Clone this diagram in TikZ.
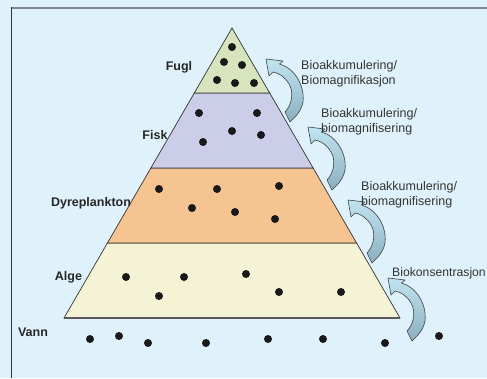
\documentclass[tikz,border=0pt]{standalone}
\usepackage{fontspec}
\setmainfont{Liberation Sans}
\definecolor{bgblue}{RGB}{223,242,251}
\definecolor{framegray}{RGB}{128,136,142}
\definecolor{frameleft}{RGB}{51,51,51}
\definecolor{fuglc}{RGB}{215,228,190}
\definecolor{fiskc}{RGB}{204,205,232}
\definecolor{dyrec}{RGB}{246,196,145}
\definecolor{algec}{RGB}{244,243,213}
\definecolor{arrtop}{RGB}{192,228,240}
\definecolor{arrbot}{RGB}{138,175,192}
\definecolor{txtgray}{RGB}{51,51,51}
\definecolor{dotc}{RGB}{25,25,25}
\tikzset{
  layer/.style={draw=black!80, line width=0.7pt, line join=miter},
  lvl/.style={font=\fontsize{12.5}{15}\selectfont\bfseries, text=black!85, inner sep=0pt},
  proc/.style={font=\fontsize{12.5}{15}\selectfont, text=txtgray, inner sep=0pt, align=left, anchor=west},
  dotty/.style={fill=dotc},
  bioarrow/.pic={
    \shade[top color=arrtop, bottom color=arrbot, draw=black!75, line width=0.6pt, line join=round]
      (0,0) -- (17,2) -- (13.5,5)
      .. controls (28,9) and (39,26) .. (37,43)
      .. controls (35,53) and (29,58) .. (24,63)
      -- (19,53)
      .. controls (26,46) and (28,33) .. (23,25)
      .. controls (19,18) and (13,14) .. (7,13)
      -- (3,17) -- cycle;
  }
}
\begin{document}
\begin{tikzpicture}[x=1pt,y=-1pt]
\useasboundingbox (0,0) rectangle (487,378);
\fill[bgblue] (0,0) rectangle (487,378);
% frame
\draw[framegray, line width=2pt] (11,7.5) -- (487,7.5);
\draw[frameleft, line width=1.5pt] (11.5,6.5) -- (11.5,378);
% pyramid layers
\draw[layer, fill=algec] (64,318) -- (107.4,243) -- (356.6,243) -- (400,318) -- cycle;
\draw[layer, fill=dyrec] (107.4,243) -- (150.9,168) -- (313.1,168) -- (356.6,243) -- cycle;
\draw[layer, fill=fiskc] (150.9,168) -- (194.3,93) -- (269.7,93) -- (313.1,168) -- cycle;
\draw[layer, fill=fuglc] (194.3,93) -- (232,28) -- (269.7,93) -- cycle;
\draw[black!65, line width=1.6pt] (64,318) -- (400,318);
% dots
\foreach \x/\y in {232/47,224/62,242/65,217/80,235/83,254/83,
  199/113,257/113,232/131,203/142,261/135,
  159/189,217/189,279/186,192/208,235/212,275/219,
  126/277,184/277,246/274,159/296,279/292,341/292,
  90/339,119/336,148/343,206/343,268/339,323/339,385/343,439/336}
  \fill[dotty] (\x,\y) circle (4);
% level labels
\node[lvl] (fugl) at (179,67) {Fugl};
\node[lvl] (fisk) at (155,135) {Fisk};
\node[lvl] (dyre) at (91,203) {Dyreplankton};
\node[lvl] (alge) at (68.5,277) {Alge};
\node[lvl] (vann) at (33,332) {Vann};
% arrows
\pic at (266,59) {bioarrow};
\pic at (308,127) {bioarrow};
\pic at (348,200) {bioarrow};
\pic at (388,278) {bioarrow};
% process labels
\node[proc] (p1) at (301,73.5) {Bioakkumulering/\\Biomagnifikasjon};
\node[proc] (p2) at (321,122) {Bioakkumulering/\\biomagnifisering};
\node[proc] (p3) at (361,195) {Bioakkumulering/\\biomagnifisering};
\node[proc] (p4) at (392,273) {\fontsize{12.2}{15}\selectfont Biokonsentrasjon};
\end{tikzpicture}
\end{document}
